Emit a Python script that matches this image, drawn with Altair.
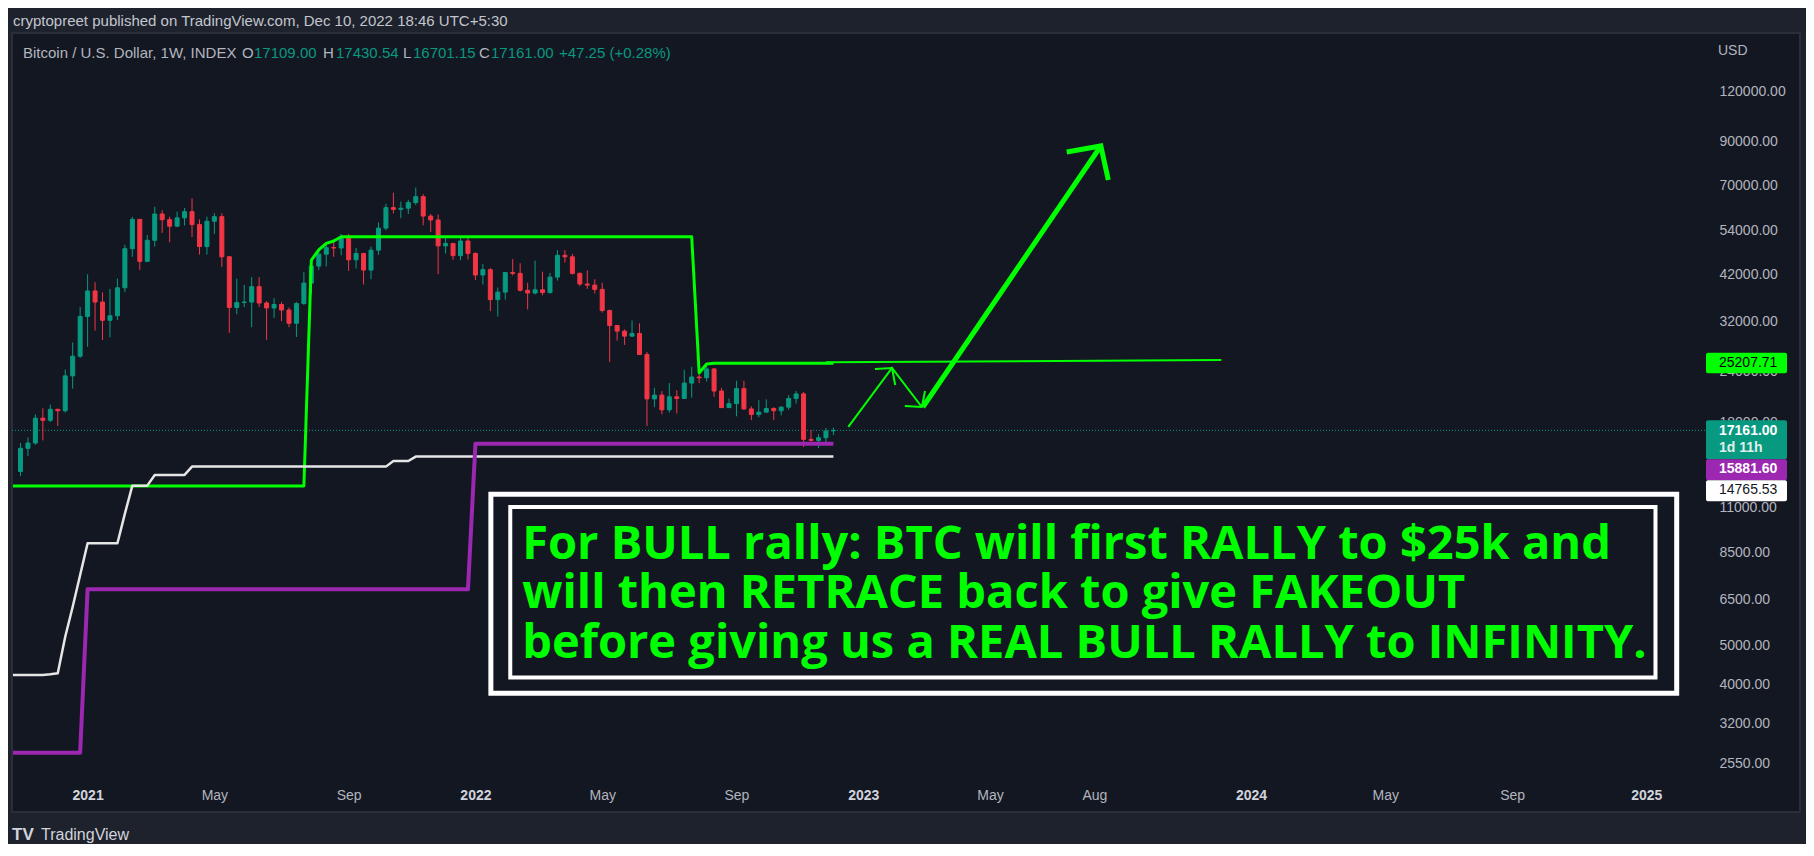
import math
import pandas as pd
import altair as alt

# ---------------- values ----------------
FIRST_WEEK = "2020-11-02"
OPEN = [13560, 15480, 15960, 18400, 18180, 19360, 19200, 23450, 26250,
        32950, 38150, 35800, 32250, 33100, 38850, 48600, 57500, 45200, 51000, 59300, 57400, 55300,
        58000, 60100, 55800, 49200, 56900, 58400, 46400, 34700, 35700, 35800, 39100, 35600, 34600,
        35300, 34200, 31700, 35500, 39900, 44000, 47100, 48900, 48800, 51800, 45600, 47300, 43000,
        48200, 54700, 61500, 60900, 61300, 63300, 65500, 58600, 57300, 49400, 50100, 46700, 50800,
        47300, 41800, 43100, 36300, 37900, 42400, 42200, 38300, 37700, 38400, 37800, 41300, 46800,
        46400, 42200, 39700, 39450, 38500, 34100, 31300, 30300, 29450, 29900, 26500, 20550, 21000,
        19300, 20800, 20600, 22500, 23300, 23200, 24400, 21500, 19550, 20000, 21800, 19400, 18800,
        19050, 19450, 19200, 19600, 20600, 21150, 16300, 16200, 16450, 17109]
HIGH = [15960, 16480, 18800, 19480, 19900, 19420, 24300, 28400, 34800,
        41950, 40100, 37850, 38600, 40950, 49700, 58350, 57600, 52600, 61800, 60600, 58400, 60100,
        61400, 64900, 57500, 58400, 59600, 59500, 46600, 40900, 39500, 41300, 41300, 36000, 36600,
        35800, 34700, 35800, 42500, 44800, 48200, 50500, 50500, 52900, 52900, 48800, 47400, 49200,
        56500, 62900, 67000, 63700, 64300, 69000, 66400, 59300, 59100, 51900, 50200, 52000, 52100,
        47600, 44500, 43500, 38900, 42500, 45800, 44700, 40000, 45400, 42600, 42300, 48200, 48200,
        47200, 42400, 42900, 40800, 40000, 34300, 31400, 30600, 32200, 31700, 26900, 21900, 21500,
        22500, 21600, 24300, 24700, 23600, 25200, 24500, 21900, 20600, 22800, 22800, 19700, 20400,
        20500, 19600, 19700, 21000, 21500, 21400, 17200, 16800, 17400, 17430.54]
LOW = [13200, 14800, 15800, 16200, 18000, 17600, 19000, 21800, 26000,
       27700, 30400, 28800, 29250, 32300, 37900, 46400, 43000, 45000, 49200, 53200, 50400, 55000,
       55500, 52000, 47000, 47000, 52900, 43800, 30000, 33400, 34800, 31000, 34800, 28800, 32700,
       32100, 31000, 29300, 35200, 37500, 43000, 43900, 46400, 46800, 42800, 43400, 39600, 40800,
       46900, 54000, 59500, 57900, 59300, 62400, 55600, 53500, 42000, 47300, 45600, 45500, 45700,
       40600, 39600, 34000, 32950, 36300, 41700, 38000, 34300, 37400, 37200, 37600, 40500, 44900,
       41900, 39200, 38600, 37600, 33700, 25400, 28700, 28000, 29300, 26500, 17600, 19600, 18800,
       19000, 18900, 20600, 20700, 22500, 22700, 20800, 19500, 19500, 18600, 19300, 18200, 18500,
       19000, 18200, 18700, 19300, 20000, 15600, 16100, 15500, 16000, 16701.15]
CLOSE = [15480, 15960, 18400, 18180, 19360, 19200, 23450, 26250, 32950,
         38150, 35800, 32250, 33100, 38850, 48600, 57500, 45200, 51000, 59300, 57400, 55300, 58000,
         60100, 55800, 49200, 56900, 58400, 46400, 34700, 35700, 35800, 39100, 35600, 34600, 35300,
         34200, 31700, 35500, 39900, 44000, 47100, 48900, 48800, 51800, 45600, 47300, 43000, 48200,
         54700, 61500, 60900, 61300, 63300, 65500, 58600, 57300, 49400, 50100, 46700, 50800, 47300,
         41800, 43100, 36300, 37900, 42400, 42200, 38300, 37700, 38400, 37800, 41300, 46800, 46400,
         42200, 39700, 39450, 38500, 34100, 31300, 30300, 29450, 29900, 26500, 20550, 21000, 19300,
         20800, 20600, 22500, 23300, 23200, 24400, 21500, 19550, 20000, 21800, 19400, 18800, 19050,
         19450, 19200, 19600, 20600, 21150, 16300, 16200, 16450, 17100, 17161]

GREEN_DATES = ["2020-10-26", "2021-07-26", "2021-08-02", "2021-08-09", "2021-08-16", "2021-08-23",
               "2021-08-30", "2022-07-25", "2022-08-01", "2022-08-08", "2022-08-15", "2022-12-05"]
GREEN_VALUES = [12470, 12470, 45550, 48250, 50120, 50790, 52060, 52060, 23840, 25100, 25207.71, 25207.71]
WHITE_DATES = ["2020-10-26", "2020-11-23", "2020-11-30", "2020-12-07", "2020-12-14", "2020-12-21",
               "2020-12-28", "2021-01-04", "2021-02-01", "2021-02-08", "2021-02-15", "2021-03-01",
               "2021-03-08", "2021-04-05", "2021-04-12", "2021-10-11", "2021-10-18", "2021-11-01",
               "2021-11-08", "2022-12-05"]
WHITE_VALUES = [4224, 4224, 4240, 4264, 5259, 6245, 7490, 8982, 8982, 10650, 12500, 12500,
                13290, 13290, 13940, 13940, 14400, 14400, 14765.53, 14765.53]
PURPLE_DATES = ["2020-10-26", "2020-12-28", "2021-01-04", "2021-12-27", "2022-01-03", "2022-12-05"]
PURPLE_VALUES = [2705, 2705, 6901, 6901, 15881.6, 15881.6]

# hand-drawn annotations (date, price)
HLINE_DATES = ["2022-11-28", "2023-12-04"]
HLINE_PRICES = [25350, 25680]
RALLY_DATES = ["2022-12-19", "2023-01-29", "2023-02-26"]
RALLY_PRICES = [17500, 24540, 19620]
HEAD1_DATES = ["2023-01-13", "2023-01-29", "2023-02-01"]
HEAD1_PRICES = [24390, 24540, 22260]
HEAD2_DATES = ["2023-02-10", "2023-02-26", "2023-03-01"]
HEAD2_PRICES = [19730, 19620, 21500]
BIG_DATES = ["2023-02-27", "2023-08-13"]
BIG_PRICES = [19620, 87570]
BIGHEAD_DATES = ["2023-07-12", "2023-08-13", "2023-08-20"]
BIGHEAD_PRICES = [84600, 87570, 72060]

BOX_OUTER_DATES = ["2022-01-17T12:00:00Z", "2025-02-03T12:00:00Z"]
BOX_OUTER_PRICES = [11900, 3805]
BOX_INNER_DATES = ["2022-02-04T17:00:00Z", "2025-01-14T14:00:00Z"]
BOX_INNER_PRICES = [11060, 4160]
NOTE_DATE = "2022-02-15T22:00:00Z"
NOTE_PRICE = 8208
NOTE_TEXT = ["For BULL rally: BTC will first RALLY to $25k and",
             "will then RETRACE back to give FAKEOUT",
             "before giving us a REAL BULL RALLY to INFINITY."]

TICK_DATES = ["2021-01-04", "2021-05-03", "2021-09-06", "2022-01-03", "2022-05-02", "2022-09-05",
              "2023-01-02", "2023-05-01", "2023-08-07", "2024-01-01", "2024-05-06", "2024-09-02",
              "2025-01-06"]
PRICE_TICKS = [120000, 90000, 70000, 54000, 42000, 32000, 24000, 18000, 14000, 11000, 8500,
               6500, 5000, 4000, 3200, 2550]

HEADER = "cryptopreet published on TradingView.com, Dec 10, 2022 18:46 UTC+5:30"
SYMBOL = "Bitcoin / U.S. Dollar, 1W, INDEX"
OHLC_LABELS = ["O", "H", "L", "C"]
OHLC_VALUES = ["17109.00", "17430.54", "16701.15", "17161.00"]
CHANGE = "+47.25 (+0.28%)"
LAST_PRICE = 17161.00
COUNTDOWN = "1d 11h"
GREEN_LAST = 25207.71
PURPLE_LAST = 15881.60
WHITE_LAST = 14765.53

# ---------------- styling ----------------
BG = "#1e222d"
PANEL = "#131722"
UP = "#089981"
DOWN = "#f23645"
LIME = "#00ff00"
PURPLE = "#9c27b0"
WHITE = "#e6e6e6"
TXT = "#b2b5be"
FONT = "Liberation Sans"

W, H = 1788, 779
PX_PER_DAY = 7.5 / 7
anchor = pd.Timestamp("2022-12-05", tz="UTC")
def ms(ts):
    return int(ts.timestamp() * 1000)
x_start = anchor - pd.Timedelta(days=(833 - 12) / PX_PER_DAY)
x_end = anchor + pd.Timedelta(days=(1800 - 833) / PX_PER_DAY)
PX_PER_DECADE = 401.77
y_top = 10 ** (math.log10(120000) + (91 - 33) / PX_PER_DECADE)
y_bot = 10 ** (math.log10(120000) - (812 - 91) / PX_PER_DECADE)

xscale = alt.Scale(type="utc", domain=[ms(x_start), ms(x_end)], nice=False)
yscale = alt.Scale(type="log", domain=[y_bot, y_top], nice=False)

is_year = "utcmonth(datum.value) == 0"
xaxis = alt.Axis(values=[ms(pd.Timestamp(d, tz="UTC")) for d in TICK_DATES],
                 labelExpr="utcFormat(datum.value, utcmonth(datum.value) == 0 ? '%Y' : '%b')",
                 orient="bottom", offset=-17, ticks=False, tickSize=0, domain=False, grid=False,
                 labelPadding=0, labelBaseline="middle", labelFont=FONT, labelFontSize=14,
                 labelColor={"condition": {"test": is_year, "value": "#d1d4dc"}, "value": TXT},
                 labelFontWeight={"condition": {"test": is_year, "value": "bold"}, "value": "normal"},
                 labelOverlap=False, labelFlush=False, title=None)
yaxis = alt.Axis(values=PRICE_TICKS, format=".2f", orient="right", offset=-81, ticks=False,
                 tickSize=0, domain=False, grid=False, labelPadding=0, labelAlign="left",
                 labelBaseline="middle", labelFont=FONT, labelFontSize=14, labelColor=TXT,
                 labelOverlap=False, labelFlush=False, title=None, zindex=0)

X = lambda f: alt.X(f, type="temporal", scale=xscale, axis=xaxis)
Y = lambda f: alt.Y(f, type="quantitative", scale=yscale, axis=yaxis)

weeks = pd.date_range(FIRST_WEEK, periods=len(OPEN), freq="7D").strftime("%Y-%m-%d").tolist()
candles = pd.DataFrame({"date": weeks, "open": OPEN, "high": HIGH, "low": LOW, "close": CLOSE})
candles["dir"] = ["up" if c >= o else "down" for o, c in zip(OPEN, CLOSE)]
dir_color = alt.Color("dir:N", scale=alt.Scale(domain=["up", "down"], range=[UP, DOWN]), legend=None)
dir_stroke = alt.Stroke("dir:N", scale=alt.Scale(domain=["up", "down"], range=[UP, DOWN]), legend=None)

layers = []

# dotted last-price line
layers.append(alt.Chart(pd.DataFrame({"v": [LAST_PRICE]})).mark_rule(
    color=UP, strokeDash=[1, 2], strokeWidth=1).encode(
    x=alt.value(0), x2=alt.value(1694), y=Y("v")))

# candles
layers.append(alt.Chart(candles).mark_rule(strokeWidth=1).encode(
    x=X("date"), y=Y("low"), y2="high", color=dir_color))
layers.append(alt.Chart(candles).mark_bar(size=4, strokeWidth=1).encode(
    x=X("date"), y=Y("open"), y2="close", color=dir_color, stroke=dir_stroke))

# indicator lines
def series(dates, values, color, width):
    df = pd.DataFrame({"date": dates, "v": values})
    return alt.Chart(df).mark_line(color=color, strokeWidth=width, clip=True,
                                   strokeJoin="round").encode(x=X("date"), y=Y("v"))

layers.append(series(GREEN_DATES, GREEN_VALUES, LIME, 3))
layers.append(series(WHITE_DATES, WHITE_VALUES, WHITE, 2.5))
layers.append(series(PURPLE_DATES, PURPLE_VALUES, PURPLE, 4))

# drawn lines and arrows
def polylines(groups, width):
    rows = []
    for g, (ds, ps) in enumerate(groups):
        for i, (d, p) in enumerate(zip(ds, ps)):
            rows.append({"seg": g, "ord": i, "date": d, "v": p})
    return alt.Chart(pd.DataFrame(rows)).mark_line(
        color=LIME, strokeWidth=width, strokeJoin="miter").encode(
        x=X("date"), y=Y("v"), detail="seg:N", order="ord:Q")

layers.append(polylines([(HLINE_DATES, HLINE_PRICES), (RALLY_DATES, RALLY_PRICES),
                         (HEAD1_DATES, HEAD1_PRICES), (HEAD2_DATES, HEAD2_PRICES)], 2))
layers.append(polylines([(BIG_DATES, BIG_PRICES), (BIGHEAD_DATES, BIGHEAD_PRICES)], 5))

# annotation box
def box(dates, prices, width):
    df = pd.DataFrame({"d1": [dates[0]], "d2": [dates[1]], "p1": [prices[0]], "p2": [prices[1]]})
    return alt.Chart(df).mark_rect(fill=PANEL, stroke="#ffffff", strokeWidth=width).encode(
        x=X("d1"), x2="d2", y=Y("p1"), y2="p2")

layers.append(box(BOX_OUTER_DATES, BOX_OUTER_PRICES, 5))
layers.append(box(BOX_INNER_DATES, BOX_INNER_PRICES, 4))
layers.append(alt.Chart(pd.DataFrame({"d": [NOTE_DATE], "v": [NOTE_PRICE], "t": ["\n".join(NOTE_TEXT)]}))
              .mark_text(align="left", baseline="alphabetic", font="Open Sans", fontWeight="bold",
                         fontSize=47, lineHeight=49.3, lineBreak="\n", color=LIME)
              .encode(x=X("d"), y=Y("v"), text="t:N"))

# price labels on the scale
def price_box(value, fill, top, bottom):
    return alt.Chart(pd.DataFrame({"v": [value]})).mark_rect(
        fill=fill, yOffset=top, y2Offset=bottom, cornerRadius=2).encode(
        x=alt.value(1694), x2=alt.value(1775), y=Y("v"), y2="v")

def price_text(value, text, color, dy, weight="normal"):
    return alt.Chart(pd.DataFrame({"v": [value], "t": [text]})).mark_text(
        align="left", baseline="middle", font=FONT, fontSize=14, fontWeight=weight,
        color=color, dy=dy).encode(x=alt.value(1707), y=Y("v"), text="t:N")

layers += [
    price_box(GREEN_LAST, LIME, -10.5, 10),
    price_text(GREEN_LAST, f"{GREEN_LAST:.2f}", "#000000", 0),
    price_box(LAST_PRICE, UP, -10.2, 28.8),
    price_text(LAST_PRICE, f"{LAST_PRICE:.2f}", "#ffffff", 1, "bold"),
    price_text(LAST_PRICE, COUNTDOWN, "#e0f0ec", 18, "bold"),
    price_box(PURPLE_LAST, PURPLE, 15.3, 36.3),
    price_text(PURPLE_LAST, f"{PURPLE_LAST:.2f}", "#ffffff", 25.5, "bold"),
    price_box(WHITE_LAST, "#ffffff", 23.6, 44.6),
    price_text(WHITE_LAST, f"{WHITE_LAST:.2f}", "#131722", 33.8),
]

# plain texts
def label(text, x, y, color, size=13, weight="normal", font=FONT):
    return alt.Chart(pd.DataFrame({"t": [text]})).mark_text(
        align="left", baseline="middle", font=font, fontSize=size, fontWeight=weight,
        color=color).encode(x=alt.value(x), y=alt.value(y), text="t:N")

layers.append(label(HEADER, 1, -12, "#c3c6ce", 15))
layers.append(label(SYMBOL, 11, 20, TXT, 15))
ohlc_x = [(230, 242), (311, 324), (391, 401), (467, 479)]
for (lx, vx), lab, val in zip(ohlc_x, OHLC_LABELS, OHLC_VALUES):
    layers.append(label(lab, lx, 20, TXT, 15))
    layers.append(label(val, vx, 20, UP, 15))
layers.append(label(CHANGE, 547, 20, UP, 15))
layers.append(label("USD", 1706, 18, TXT, 14))
layers.append(label("TV", 0, 802, "#d1d4dc", 17, "bold"))
layers.append(label("TradingView", 29, 802, "#d1d4dc", 16))

chart = alt.layer(*layers).properties(
    width=W, height=H,
    padding={"left": 4, "top": 25, "right": 6, "bottom": 32},
    autosize=alt.AutoSizeParams(type="none"),
    background=BG,
).configure_view(fill=PANEL, stroke="#2a2e39", strokeWidth=2)

chart.save("out.html", embed_options={"renderer": "svg", "actions": False})
